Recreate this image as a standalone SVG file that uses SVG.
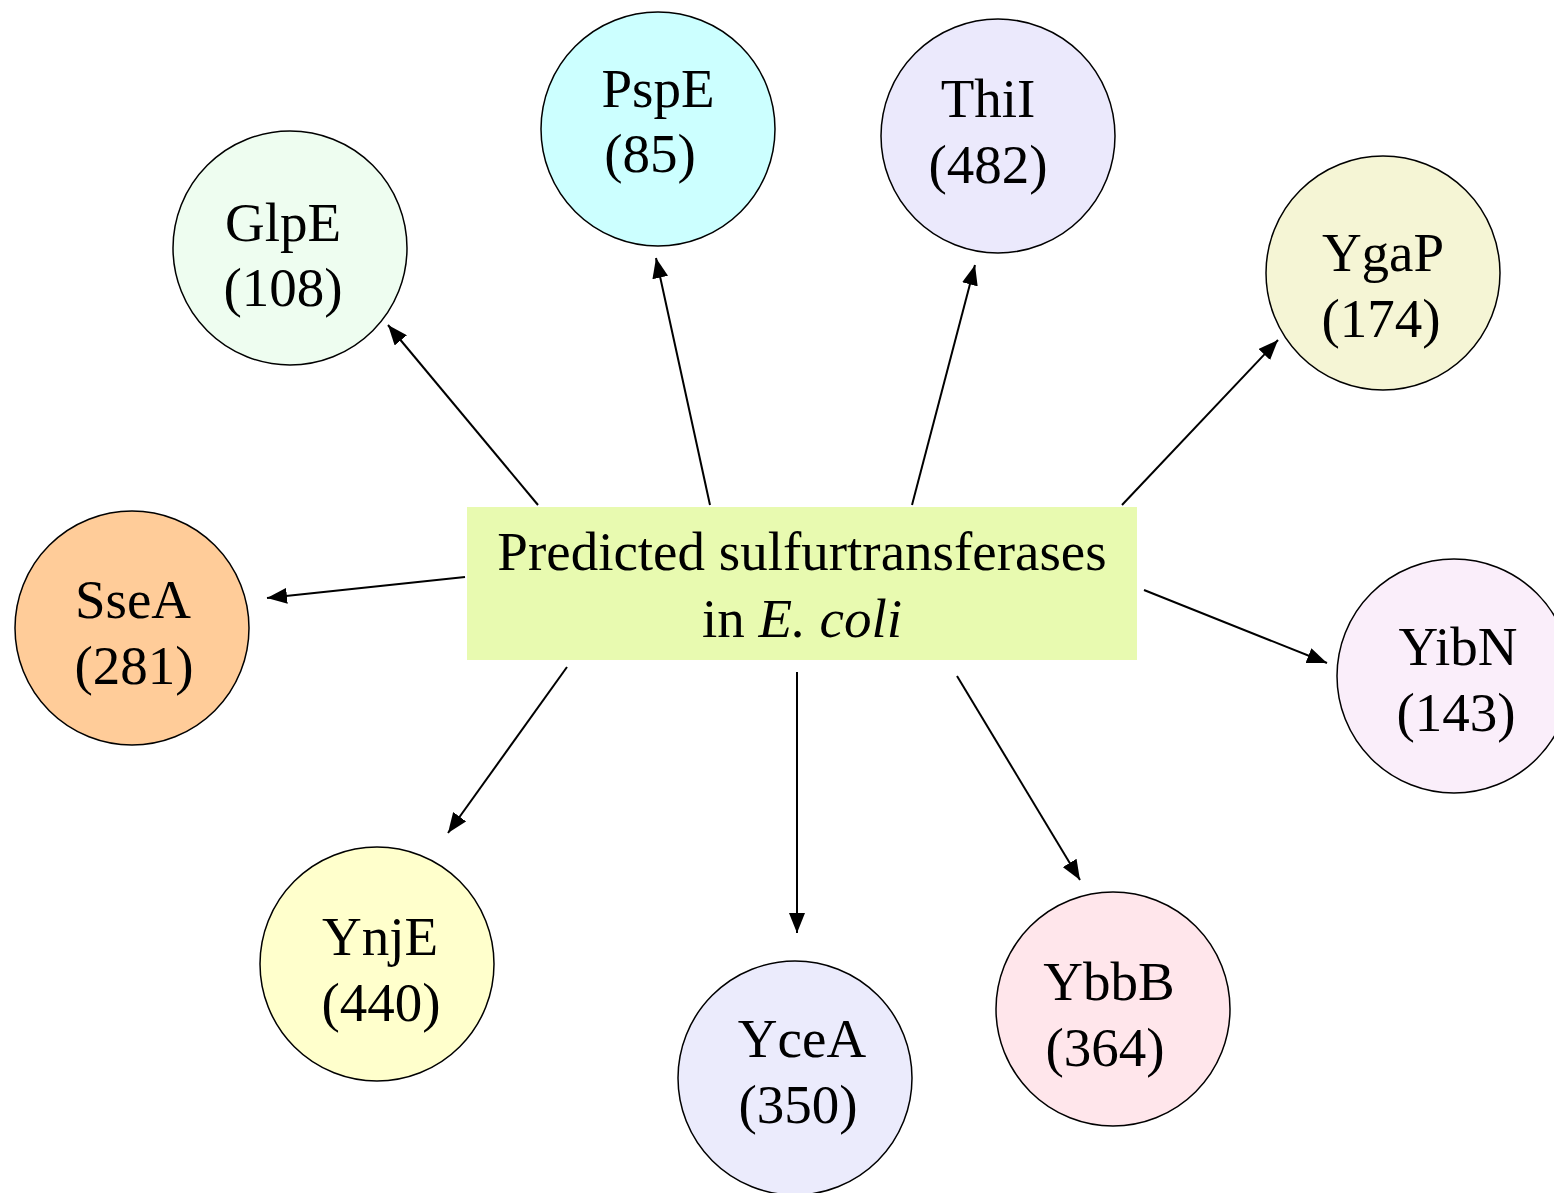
<svg xmlns="http://www.w3.org/2000/svg" width="1554" height="1193" viewBox="0 0 1554 1193">
<defs>
<marker id="ah" markerUnits="userSpaceOnUse" markerWidth="22" markerHeight="16" refX="20" refY="8" orient="auto">
<path d="M0,0 L20,8 L0,16 Z" fill="#000"/>
</marker>
<style>
.n{stroke:#000;stroke-width:1.5}
.t{font-family:"Liberation Serif","Times New Roman",serif;font-size:55px;fill:#000;text-anchor:middle}
.c line{stroke:#000;stroke-width:2;marker-end:url(#ah)}
</style>
</defs>
<rect width="1554" height="1193" fill="#fff"/>
<g class="c" id="connectors">
<line x1="538" y1="505" x2="388" y2="325"/>
<line x1="710" y1="505" x2="656" y2="258"/>
<line x1="912" y1="505" x2="975" y2="265"/>
<line x1="1122" y1="505" x2="1278" y2="340"/>
<line x1="465" y1="577" x2="267" y2="598"/>
<line x1="1144" y1="590" x2="1327" y2="663"/>
<line x1="567" y1="667" x2="448" y2="833"/>
<line x1="797" y1="672" x2="797" y2="933"/>
<line x1="957" y1="676" x2="1080" y2="880"/>
</g>
<g id="center">
<rect x="467" y="507" width="670" height="153" fill="#E8FAB0"/>
<text class="t" x="802" y="570" font-size="57">Predicted sulfurtransferases</text>
<text class="t" x="802" y="637" font-size="57">in <tspan font-style="italic">E. coli</tspan></text>
</g>
<g id="GlpE"><circle class="n" cx="290" cy="248" r="117" fill="#EEFDF0"/><text class="t" x="283" y="241">GlpE</text><text class="t" x="283" y="306">(108)</text></g>
<g id="PspE"><circle class="n" cx="658" cy="129" r="117" fill="#CCFFFF"/><text class="t" x="658" y="107">PspE</text><text class="t" x="650" y="172">(85)</text></g>
<g id="ThiI"><circle class="n" cx="998" cy="136" r="117" fill="#EBE9FC"/><text class="t" x="988" y="117">ThiI</text><text class="t" x="988" y="183">(482)</text></g>
<g id="YgaP"><circle class="n" cx="1383" cy="273" r="117" fill="#F5F5D5"/><text class="t" x="1383" y="271">YgaP</text><text class="t" x="1381" y="337">(174)</text></g>
<g id="SseA"><circle class="n" cx="132" cy="628" r="117" fill="#FFCC99"/><text class="t" x="133" y="618">SseA</text><text class="t" x="134" y="684">(281)</text></g>
<g id="YibN"><circle class="n" cx="1454" cy="676" r="117" fill="#FAEEFA"/><text class="t" x="1458" y="665">YibN</text><text class="t" x="1456" y="731">(143)</text></g>
<g id="YnjE"><circle class="n" cx="377" cy="964" r="117" fill="#FFFFCC"/><text class="t" x="380" y="955">YnjE</text><text class="t" x="381" y="1021">(440)</text></g>
<g id="YceA"><circle class="n" cx="795" cy="1078" r="117" fill="#EBEBFC"/><text class="t" x="802" y="1057">YceA</text><text class="t" x="798" y="1123">(350)</text></g>
<g id="YbbB"><circle class="n" cx="1113" cy="1009" r="117" fill="#FFE6EB"/><text class="t" x="1109" y="1000">YbbB</text><text class="t" x="1105" y="1066">(364)</text></g>
</svg>
